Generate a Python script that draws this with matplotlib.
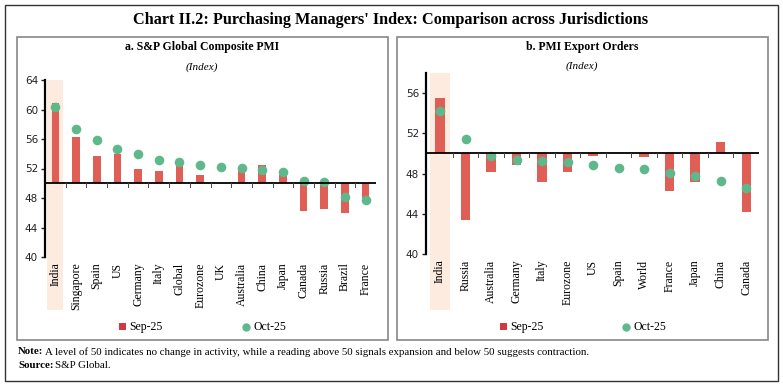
import matplotlib
matplotlib.use("Agg")
import matplotlib.pyplot as plt
from matplotlib.patches import Rectangle
from matplotlib.lines import Line2D

# a. S&P Global Composite PMI
comp_names = ['India', 'Singapore', 'Spain', 'US', 'Germany', 'Italy', 'Global', 'Eurozone',
              'UK', 'Australia', 'China', 'Japan', 'Canada', 'Russia', 'Brazil', 'France']
comp_sep = [60.9, 56.3, 53.7, 53.9, 51.9, 51.6, 52.4, 51.1, 50.1, 52.0, 52.5, 51.1, 46.3, 46.5, 45.9, 48.0]
comp_oct = [60.4, 57.3, 55.9, 54.6, 53.9, 53.1, 52.9, 52.5, 52.2, 52.1, 51.8, 51.5, 50.3, 50.2, 48.1, 47.7]

# b. PMI Export Orders
exp_names = ['India', 'Russia', 'Australia', 'Germany', 'Italy', 'Eurozone', 'US',
             'Spain', 'World', 'France', 'Japan', 'China', 'Canada']
exp_sep = [55.5, 43.4, 48.2, 48.9, 47.2, 48.2, 49.7, 50.0, 49.6, 46.3, 47.2, 51.1, 44.2]
exp_oct = [54.2, 51.4, 49.7, 49.3, 49.2, 49.1, 48.9, 48.6, 48.5, 48.1, 47.8, 47.3, 46.6]

RED = '#DF5F57'
GREEN = '#5FB88B'
BAND = '#FDEBE0'
SERIF = 'Liberation Serif'

W, H = 783, 385
fig = plt.figure(figsize=(W / 100, H / 100), dpi=100)


def px(x0, y0, x1, y1):
    # pixel box (top-left origin) -> figure rect
    return [x0 / W, 1 - y1 / H, (x1 - x0) / W, (y1 - y0) / H]


def box(x0, y0, x1, y1, lw=1.0, color='#555555'):
    r = Rectangle((x0 / W, 1 - y1 / H), (x1 - x0) / W, (y1 - y0) / H, transform=fig.transFigure,
                  fill=False, lw=lw, edgecolor=color)
    fig.add_artist(r)


def panel(rect, names, sep, oct_, ylo, yhi, xlo, band_lo):
    ax = fig.add_axes(rect)
    n = len(names)
    x = list(range(n))
    ax.axvspan(-0.38, 0.38, ymin=band_lo, ymax=1.0, color=BAND, lw=0, clip_on=False, zorder=0)
    ax.bar(x, [v - 50 for v in sep], bottom=50, width=0.37, color=RED, zorder=2)
    ax.scatter(x, oct_, s=48, color=GREEN, zorder=3, lw=0)
    ax.axhline(50, color='black', lw=1.3, zorder=4)
    for b in range(n):
        ax.plot([b + 0.5, b + 0.5], [50, 50 - (yhi - ylo) * 0.022], color='#444444', lw=0.7, zorder=4)
    ax.set_xlim(xlo, n - 0.5)
    ax.set_ylim(ylo, yhi)
    ax.set_yticks(range(ylo, yhi + 1, 4))
    ax.tick_params(axis='y', labelsize=7.5, colors='#222222', length=3, width=1, pad=2)
    ax.set_xticks(x)
    ax.set_xticklabels(names, rotation=90, fontsize=8.5, family=SERIF, va='top')
    ax.tick_params(axis='x', length=0, pad=4)
    for s in ['top', 'right', 'bottom']:
        ax.spines[s].set_visible(False)
    ax.spines['left'].set_linewidth(1.6)
    ax.set_facecolor('none')
    return ax


panel(px(45, 80, 376, 257), comp_names, comp_sep, comp_oct, 40, 64, -0.5, -0.30)
panel(px(426, 73, 759, 254), exp_names, exp_sep, exp_oct, 40, 58, -0.55, -0.31)

# frames
box(5, 5, 778, 381, lw=1.0, color='#333333')
box(17, 37, 388, 340, lw=1.2, color='#888888')
box(397, 37, 768, 340, lw=1.2, color='#888888')

fig.text(391 / W, 1 - 20 / H, "Chart II.2: Purchasing Managers' Index: Comparison across Jurisdictions",
         ha='center', va='center', fontsize=11.7, family=SERIF, fontweight='bold')
fig.text(202 / W, 1 - 47 / H, 'a. S&P Global Composite PMI', ha='center', va='center',
         fontsize=8.5, family=SERIF, fontweight='bold')
fig.text(202 / W, 1 - 67 / H, '(Index)', ha='center', va='center', fontsize=8, family=SERIF, style='italic')
fig.text(582 / W, 1 - 47 / H, 'b. PMI Export Orders', ha='center', va='center',
         fontsize=8.5, family=SERIF, fontweight='bold')
fig.text(582 / W, 1 - 66 / H, '(Index)', ha='center', va='center', fontsize=8, family=SERIF, style='italic')

# legends
for sx, cx in [(119, 246), (500, 626)]:
    fig.add_artist(Rectangle((sx / W, 1 - 330 / H), 7 / W, 7 / H, transform=fig.transFigure,
                             color='#D0393F', lw=0))
    fig.text((sx + 10) / W, 1 - 327 / H, 'Sep-25', va='center', fontsize=8.5, family=SERIF)
    fig.add_artist(Line2D([cx / W], [1 - 327 / H], transform=fig.transFigure, marker='o',
                          markersize=6, color=GREEN, lw=0, markeredgewidth=0))
    fig.text((cx + 7) / W, 1 - 327 / H, 'Oct-25', va='center', fontsize=8.5, family=SERIF)

fig.text(18 / W, 1 - 352 / H, 'Note:', va='center', fontsize=7.8, family=SERIF, fontweight='bold')
fig.text(45 / W, 1 - 352 / H,
         'A level of 50 indicates no change in activity, while a reading above 50 signals expansion and below 50 suggests contraction.',
         va='center', fontsize=7.8, family=SERIF)
fig.text(18 / W, 1 - 365 / H, 'Source:', va='center', fontsize=7.8, family=SERIF, fontweight='bold')
fig.text(55 / W, 1 - 365 / H, 'S&P Global.', va='center', fontsize=7.8, family=SERIF)

fig.savefig('out.png', dpi=100)
